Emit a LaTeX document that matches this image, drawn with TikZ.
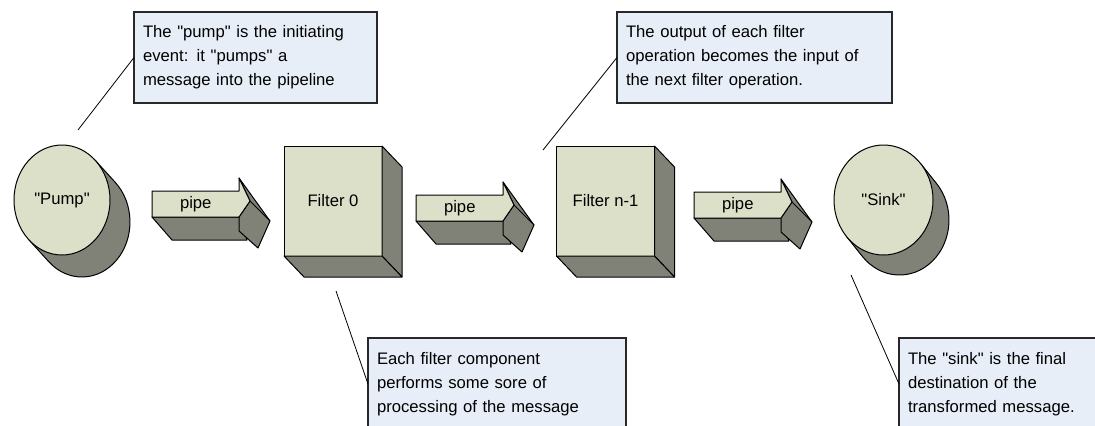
\documentclass[tikz,border=0pt]{standalone}
\usepackage{fontspec}
\setmainfont{Liberation Sans}[Ligatures=TeXOff]
\usetikzlibrary{shapes.geometric,calc}
\definecolor{lightface}{RGB}{221,224,201}
\definecolor{darkface}{RGB}{128,130,120}
\definecolor{notefill}{RGB}{232,238,248}
\definecolor{noteline}{RGB}{40,40,40}
\newcommand{\pipefaces}[1]{%
  \begin{scope}[shift={(#1)}]
    \draw[darkpart] (0,26) -- (20,49) -- (95,49) -- (87,26) -- cycle;
    \draw[darkpart] (87,-13) -- (118,30) -- (106,57) -- (87,40) -- (87,26) -- (98,10) -- cycle;
    \draw[line width=0.6pt] (98,10) -- (118,30);
    \draw[frontpart] (0,0) -- (87,0) -- (87,-13) -- (98,10) -- (87,26) -- (0,26) -- cycle;
  \end{scope}}
\begin{document}
\begin{tikzpicture}[x=0.75pt,y=-0.75pt,
  font=\fontsize{12.5}{18}\selectfont,
  note/.style={draw=noteline, line width=1pt, fill=notefill, anchor=north west,
    align=left, inner xsep=6.75pt, inner ysep=0pt, outer sep=0pt},
  cyl/.style={ellipse, draw, line width=0.75pt, fill=lightface, inner sep=0pt, outer sep=0pt},
  darkpart/.style={draw, line width=0.75pt, fill=darkface, line join=round},
  frontpart/.style={draw, line width=0.75pt, fill=lightface, line join=round},
  cube/.style={draw, line width=0.75pt, fill=lightface, inner sep=0pt, outer sep=0pt,
    minimum width=73.5pt, minimum height=82.5pt},
  pipebox/.style={inner sep=0pt, minimum width=65.25pt, minimum height=19.5pt, anchor=north west},
  leader/.style={draw, line width=0.6pt}]
\useasboundingbox (0,0) rectangle (1095,425);
\clip (0,0) rectangle (1095,425);

% Pump
\coordinate (pumpc) at (62,200);
\draw[darkpart] ($(pumpc)+(33.2,-39.7)$) -- ++(20,22)
  arc[start angle=-46.2, end angle=133.8, x radius=48, y radius=55]
  -- ($(pumpc)+(-33.2,39.7)$) -- cycle;
\node[cyl, minimum width=72pt, minimum height=82.5pt] (pump) at (pumpc) {"Pump"};

% Sink
\coordinate (sinkc) at (883.5,200);
\draw[darkpart] ($(sinkc)+(37.0,-36.5)$) -- ++(16,20)
  arc[start angle=-41.6, end angle=138.4, x radius=49.5, y radius=55]
  -- ($(sinkc)+(-37.0,36.5)$) -- cycle;
\node[cyl, minimum width=74.25pt, minimum height=82.5pt] (sink) at (sinkc) {"Sink"};

% Filters
\node[cube] (f0) at (333,201) {Filter 0};
\draw[darkpart] (f0.north east) -- ++(20,21) -- ++(0,110) -- (f0.south east) -- cycle;
\draw[darkpart] (f0.south west) -- ++(20,21) -- ++(98,0) -- (f0.south east) -- cycle;

\node[cube] (f1) at (605.5,201) {Filter n-1};
\draw[darkpart] (f1.north east) -- ++(20,21) -- ++(0,110) -- (f1.south east) -- cycle;
\draw[darkpart] (f1.south west) -- ++(20,21) -- ++(98,0) -- (f1.south east) -- cycle;

% Pipes
\coordinate (o1) at (152,191);
\pipefaces{o1}
\node[pipebox] (p1) at (o1) {pipe};
\coordinate (o2) at (416,195);
\pipefaces{o2}
\node[pipebox] (p2) at (o2) {pipe};
\coordinate (o3) at (694,192);
\pipefaces{o3}
\node[pipebox] (p3) at (o3) {pipe};

% Callouts
\node[note, minimum width=182.25pt, minimum height=68.25pt, text width=168.75pt] (c1) at (134,12)
  {The "pump" is the initiating\\event: it "pumps" a\\message into the pipeline};
\node[note, minimum width=206.25pt, minimum height=68.25pt, text width=192.75pt] (c2) at (617,12)
  {The output of each filter\\operation becomes the input of\\the next filter operation.};
\node[note, minimum width=193.5pt, minimum height=69pt, text width=180pt] (c3) at (368,338)
  {Each filter component\\performs some sore of\\processing of the message};
\node[note, minimum width=158.25pt, minimum height=69pt, text width=144.75pt] (c4) at (899,338)
  {The "sink" is the final\\destination of the\\transformed message.};

% Leaders
\coordinate (l1) at (78,130);
\coordinate (l2) at (543,150);
\coordinate (l3) at (336,291);
\coordinate (l4) at (851,275);
\draw[leader] (c1.west) -- (l1);
\draw[leader] (c2.west) -- (l2);
\draw[leader] (c3.west) -- (l3);
\draw[leader] (c4.west) -- (l4);
\end{tikzpicture}
\end{document}
